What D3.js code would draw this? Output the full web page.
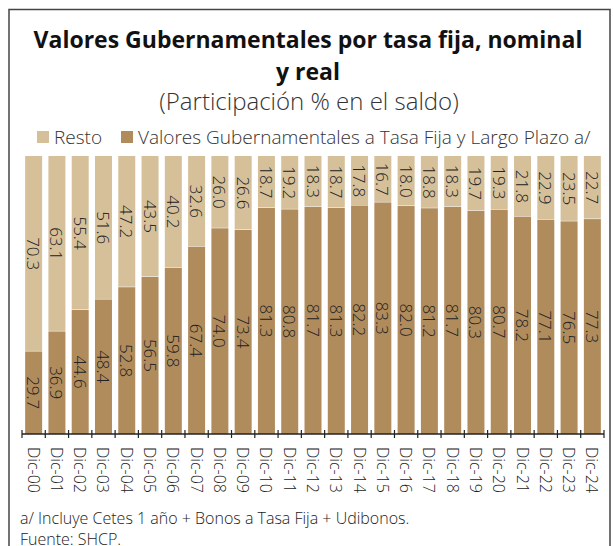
<!DOCTYPE html>
<html>
<head>
<meta charset="utf-8">
<script src="https://cdn.jsdelivr.net/npm/d3@7"></script>
<style>
  body { margin: 0; background: #fff; }
  text { font-family: "Open Sans", "Noto Sans", sans-serif; }
</style>
</head>
<body>
<svg id="chart" width="613" height="546"></svg>
<script>
// Datos
const periods = ["Dic-00","Dic-01","Dic-02","Dic-03","Dic-04","Dic-05","Dic-06","Dic-07","Dic-08","Dic-09",
    "Dic-10","Dic-11","Dic-12","Dic-13","Dic-14","Dic-15","Dic-16","Dic-17","Dic-18","Dic-19",
    "Dic-20","Dic-21","Dic-22","Dic-23","Dic-24"];
const tasaFija = [29.7, 36.9, 44.6, 48.4, 52.8, 56.5, 59.8, 67.4, 74.0, 73.4,
    81.3, 80.8, 81.7, 81.3, 82.2, 83.3, 82.0, 81.2, 81.7, 80.3,
    80.7, 78.2, 77.1, 76.5, 77.3];
const resto = [70.3, 63.1, 55.4, 51.6, 47.2, 43.5, 40.2, 32.6, 26.0, 26.6,
    18.7, 19.2, 18.3, 18.7, 17.8, 16.7, 18.0, 18.8, 18.3, 19.7,
    19.3, 21.8, 22.9, 23.5, 22.7];
const seriesNames = ["Resto", "Valores Gubernamentales a Tasa Fija y Largo Plazo a/"];

const colorDark = "#b08c5d";
const colorLight = "#d5c09a";

const svg = d3.select("#chart");

// Marco
svg.append("rect")
    .attr("x", 9).attr("y", 9.5)
    .attr("width", 601).attr("height", 560)
    .attr("fill", "none")
    .attr("stroke", "#444")
    .attr("stroke-width", 1.5);

// Titulos
svg.append("text")
    .attr("x", 308).attr("y", 48)
    .attr("text-anchor", "middle")
    .attr("font-size", 23).attr("font-weight", 700)
    .attr("fill", "#111")
    .text("Valores Gubernamentales por tasa fija, nominal");
svg.append("text")
    .attr("x", 308).attr("y", 80)
    .attr("text-anchor", "middle")
    .attr("font-size", 23).attr("font-weight", 700)
    .attr("fill", "#111")
    .text("y real");
svg.append("text")
    .attr("x", 309).attr("y", 110)
    .attr("text-anchor", "middle")
    .attr("font-size", 24).attr("font-weight", 300)
    .attr("fill", "#333")
    .text("(Participación % en el saldo)");

// Leyenda
const legend = [
    { name: seriesNames[0], color: colorLight, x: 37 },
    { name: seriesNames[1], color: colorDark, x: 121 }
];
legend.forEach(l => {
    svg.append("rect").attr("x", l.x).attr("y", 131).attr("width", 12).attr("height", 12).attr("fill", l.color);
    svg.append("text").attr("x", l.x + 17).attr("y", 144)
        .attr("font-size", 19).attr("font-weight", 300).attr("fill", "#333").text(l.name);
});

// Escalas
const plot = { left: 22, right: 604, top: 156, bottom: 434 };
const x = d3.scaleBand().domain(periods).range([plot.left, plot.right]).paddingInner(0.27).paddingOuter(0.135);
const y = d3.scaleLinear().domain([0, 100]).range([plot.bottom, plot.top]);

const rows = periods.map((p, i) => ({ p, fija: tasaFija[i], resto: resto[i] }));

// Barras
const g = svg.append("g");
g.selectAll(".fija").data(rows).enter().append("rect")
    .attr("x", d => x(d.p)).attr("width", x.bandwidth())
    .attr("y", d => y(d.fija)).attr("height", d => y(0) - y(d.fija))
    .attr("fill", colorDark);
g.selectAll(".resto").data(rows).enter().append("rect")
    .attr("x", d => x(d.p)).attr("width", x.bandwidth())
    .attr("y", d => y(100)).attr("height", d => y(d.fija) - y(100) - 0.5)
    .attr("fill", colorLight);

// Etiquetas
const labelStyle = sel => sel
    .attr("text-anchor", "middle")
    .attr("dominant-baseline", "central")
    .attr("font-size", 17).attr("font-weight", 300)
    .attr("fill", "#222");
g.selectAll(".lf").data(rows).enter().append("text")
    .attr("transform", d => `translate(${x(d.p) + x.bandwidth() / 2},${(y(0) + y(d.fija)) / 2}) rotate(90)`)
    .call(labelStyle)
    .text(d => d.fija.toFixed(1));
g.selectAll(".lr").data(rows).enter().append("text")
    .attr("transform", d => `translate(${x(d.p) + x.bandwidth() / 2},${(y(100) + y(d.fija)) / 2}) rotate(90)`)
    .call(labelStyle)
    .text(d => d.resto.toFixed(1));

// Eje X
const tickXs = periods.map(p => x(p) - x.step() * x.paddingInner() / 2).concat([plot.right]);
svg.append("line")
    .attr("x1", plot.left).attr("x2", plot.right)
    .attr("y1", plot.bottom).attr("y2", plot.bottom)
    .attr("stroke", "#222").attr("stroke-width", 1.5);
svg.selectAll(".tk").data(tickXs).enter().append("line")
    .attr("x1", d => d).attr("x2", d => d)
    .attr("y1", plot.bottom - 4).attr("y2", plot.bottom + 4)
    .attr("stroke", "#222").attr("stroke-width", 1.2);
svg.selectAll(".xl").data(periods).enter().append("text")
    .attr("transform", d => `translate(${x(d) + x.bandwidth() / 2},${plot.bottom + 13}) rotate(90)`)
    .attr("dominant-baseline", "central")
    .attr("font-size", 16).attr("font-weight", 300)
    .attr("fill", "#222")
    .text(d => d);

// Notas
svg.append("text").attr("x", 20).attr("y", 524).attr("font-size", 16).attr("font-weight", 300).attr("fill", "#222")
    .text("a/ Incluye Cetes 1 año + Bonos a Tasa Fija + Udibonos.");
svg.append("text").attr("x", 20).attr("y", 545).attr("font-size", 16).attr("font-weight", 300).attr("fill", "#222")
    .text("Fuente: SHCP.");
</script>
</body>
</html>
